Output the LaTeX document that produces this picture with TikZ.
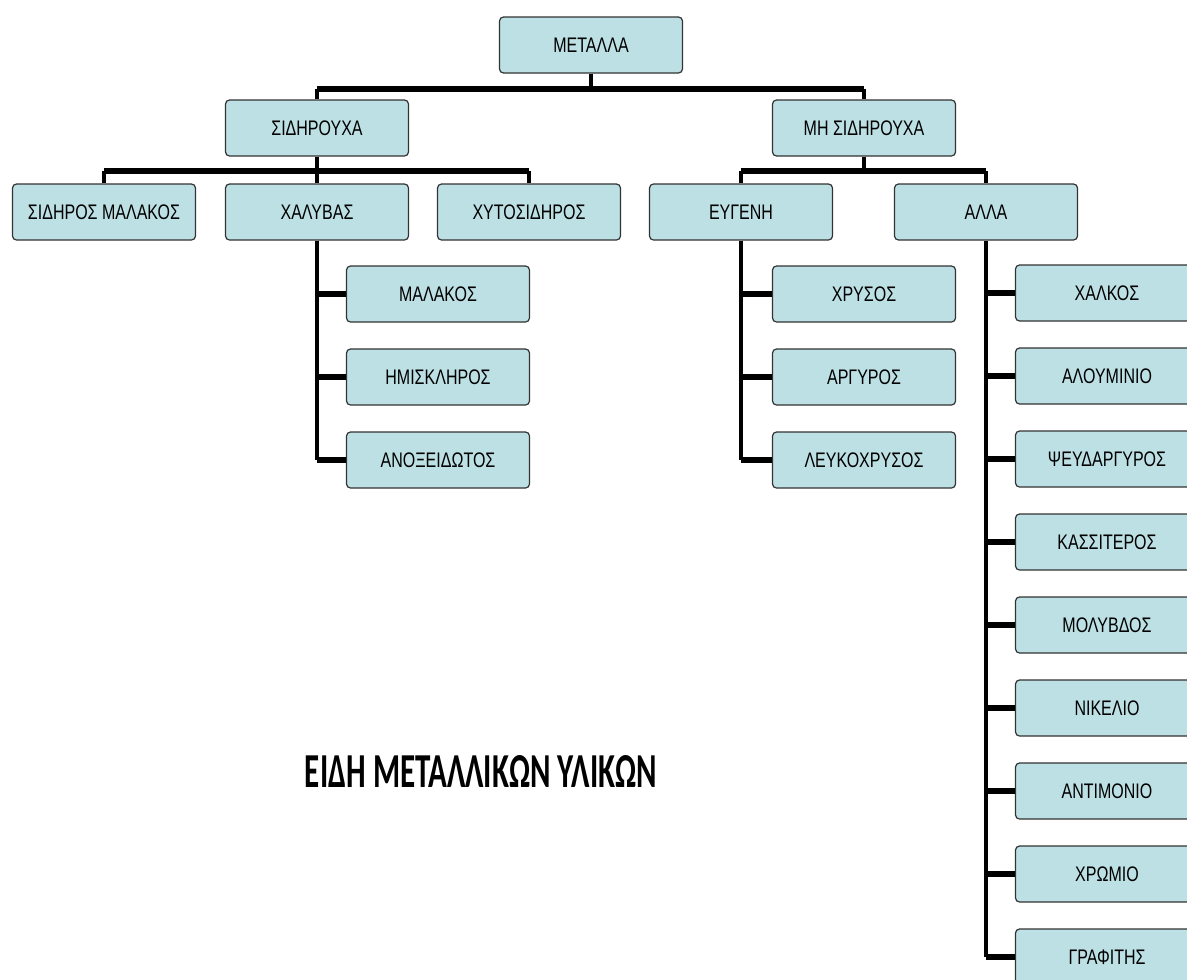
\documentclass[tikz,border=0pt]{standalone}
\usepackage{fontspec}
\setmainfont{Liberation Sans}
\newfontfamily\boxfont[FakeStretch=0.76]{Liberation Sans}
\newfontfamily\titlefont{Carlito}
\definecolor{boxfill}{HTML}{BCE0E4}
\definecolor{boxline}{HTML}{333333}
\tikzset{
  item/.style={draw=boxline, line width=0.9pt, fill=boxfill, rounded corners=3pt,
    minimum width=137.25pt, minimum height=42pt, inner sep=0pt,
    font=\boxfont\fontsize{15.8}{17}\selectfont, text height=11.3pt, text depth=0pt},
  hbar/.style={line width=4.5pt, black},
  vbar/.style={line width=3pt, black},
}
\begin{document}
\begin{tikzpicture}[x=0.75pt,y=-0.75pt]
\useasboundingbox (0,0) rectangle (1187,979);
\fill[white] (0,0) rectangle (1187,979);

% junction levels
\coordinate (barA) at (0,88.5);
\coordinate (barB) at (0,171);

% level 0 and 1
\node[item] (met) at (591,45) {ΜΕΤΑΛΛΑ};
\node[item] (sid) at (317,128) {ΣΙΔΗΡΟΥΧΑ};
\node[item] (mhs) at (864,128) {ΜΗ ΣΙΔΗΡΟΥΧΑ};

% level 2
\node[item] (sma) at (104,212) {ΣΙΔΗΡΟΣ ΜΑΛΑΚΟΣ};
\node[item] (xal) at (317,212) {ΧΑΛΥΒΑΣ};
\node[item] (xyt) at (529,212) {ΧΥΤΟΣΙΔΗΡΟΣ};
\node[item] (eyg) at (741,212) {ΕΥΓΕΝΗ};
\node[item] (all) at (986,212) {ΑΛΛΑ};

% kinds of steel
\node[item] (st1) at (438,294) {ΜΑΛΑΚΟΣ};
\node[item] (st2) at (438,377) {ΗΜΙΣΚΛΗΡΟΣ};
\node[item] (st3) at (438,460) {ΑΝΟΞΕΙΔΩΤΟΣ};

% noble metals
\node[item] (ev1) at (864,294) {ΧΡΥΣΟΣ};
\node[item] (ev2) at (864,377) {ΑΡΓΥΡΟΣ};
\node[item] (ev3) at (864,460) {ΛΕΥΚΟΧΡΥΣΟΣ};

% other non-ferrous
\foreach \name [count=\i from 0] in {ΧΑΛΚΟΣ,ΑΛΟΥΜΙΝΙΟ,ΨΕΥΔΑΡΓΥΡΟΣ,ΚΑΣΣΙΤΕΡΟΣ,ΜΟΛΥΒΔΟΣ,ΝΙΚΕΛΙΟ,ΑΝΤΙΜΟΝΙΟ,ΧΡΩΜΙΟ,ΓΡΑΦΙΤΗΣ}
  \node[item] (al\i) at (1107,{293+83*\i}) {\name};

% top connectors
\draw[vbar] (met.south) -- (met.south |- barA);
\draw[hbar] (sid.north |- barA) -- (mhs.north |- barA);
\draw[vbar] (sid.north |- barA) -- (sid.north);
\draw[vbar] (mhs.north |- barA) -- (mhs.north);

% ferrous branch
\draw[vbar] (sid.south) -- (sid.south |- barB);
\draw[hbar] (sma.north |- barB) -- (xyt.north |- barB);
\foreach \n in {sma,xal,xyt}
  \draw[vbar] (\n.north |- barB) -- (\n.north);

% non-ferrous branch
\draw[vbar] (mhs.south) -- (mhs.south |- barB);
\draw[hbar] (eyg.north |- barB) -- (all.north |- barB);
\foreach \n in {eyg,all}
  \draw[vbar] (\n.north |- barB) -- (\n.north);

% vertical spines with side stubs
\draw[vbar] (xal.south) -- (xal.south |- st3.west);
\foreach \n in {st1,st2,st3}
  \draw[hbar] (xal.south |- \n.west) -- (\n.west);

\draw[vbar] (eyg.south) -- (eyg.south |- ev3.west);
\foreach \n in {ev1,ev2,ev3}
  \draw[hbar] (eyg.south |- \n.west) -- (\n.west);

\draw[vbar] (all.south) -- (all.south |- al8.west);
\foreach \i in {0,...,8}
  \draw[hbar] (all.south |- al\i.west) -- (al\i.west);

% caption
\node (title) at (481,771) {\resizebox{264pt}{24pt}{\titlefont\bfseries ΕΙΔΗ ΜΕΤΑΛΛΙΚΩΝ ΥΛΙΚΩΝ}};
\end{tikzpicture}
\end{document}
